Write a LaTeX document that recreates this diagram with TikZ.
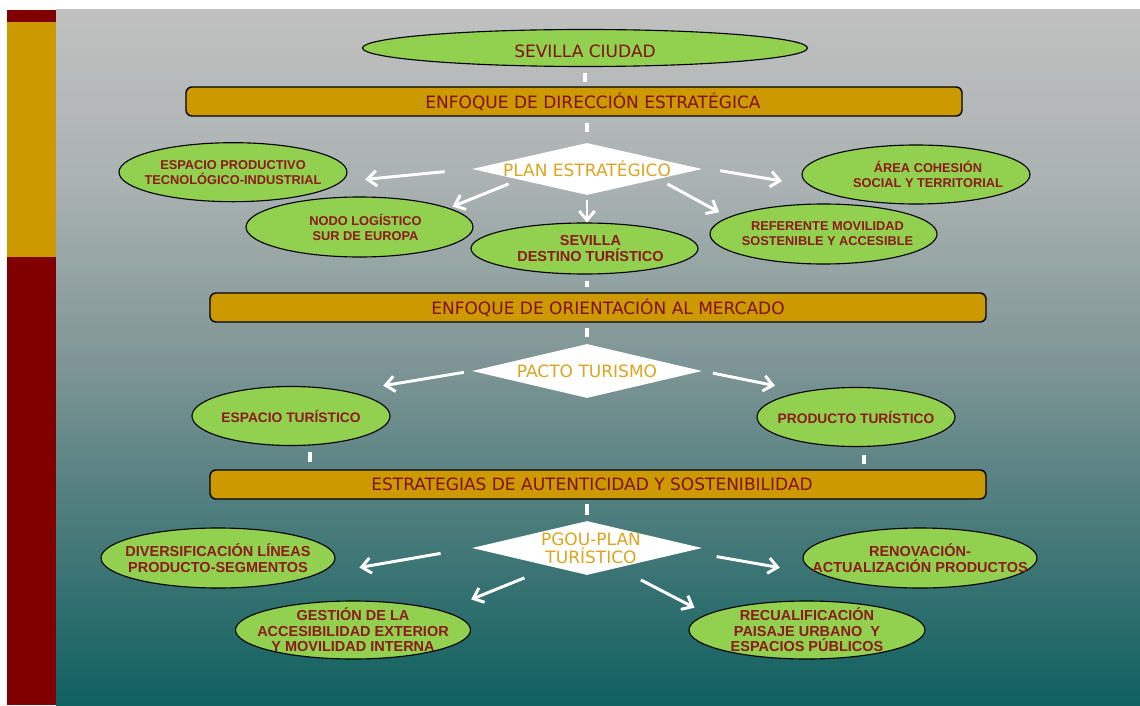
\documentclass[tikz,border=0pt]{standalone}
\usepackage{fontspec}
\setmainfont{DejaVu Sans}
\newfontfamily\ovalfont{Liberation Sans}
\usepackage{tikz}
\usetikzlibrary{calc, shapes.geometric, arrows.meta}

\definecolor{bargold}{RGB}{204,153,0}
\definecolor{barred}{RGB}{128,0,0}
\definecolor{ovalgreen}{RGB}{146,208,80}
\definecolor{txtred}{RGB}{128,16,16}
\definecolor{ovalred}{RGB}{139,26,26}
\definecolor{txtgold}{RGB}{218,165,32}

\pgfdeclareverticalshading{slidebg}{100bp}{rgb(0bp)=(0.059,0.376,0.376); rgb(25bp)=(0.059,0.376,0.376); rgb(37.5bp)=(0.282,0.478,0.478); rgb(50bp)=(0.502,0.588,0.588); rgb(62.5bp)=(0.667,0.698,0.698); rgb(75bp)=(0.753,0.753,0.753); rgb(100bp)=(0.753,0.753,0.753)}

\tikzset{
  band/.style={draw=black, line width=1pt, fill=bargold, rounded corners=0.15cm,
    minimum width=19.4cm, minimum height=0.725cm, inner sep=0pt},
  bandtext/.style={text=txtred, font=\fontsize{12.1pt}{14pt}\selectfont},
  oval/.style={ellipse, draw=black, line width=0.8pt, fill=ovalgreen, inner sep=0pt},
  ovaltext/.style={text=ovalred, align=center, font=\ovalfont\bfseries\fontsize{9.1pt}{10.7pt}\selectfont},
  bigovaltext/.style={text=ovalred, align=center, font=\ovalfont\bfseries\fontsize{10.3pt}{11.4pt}\selectfont},
  plan/.style={diamond, fill=white, inner sep=0pt, minimum width=5.75cm},
  plantext/.style={text=txtgold, align=center, font=\fontsize{12.1pt}{12.6pt}\selectfont},
  link/.style={draw=white, line width=2.8pt},
  arr/.style={draw=white, line width=2.1pt, -{Straight Barb[length=6.5pt, width=11pt]}}
}

\begin{document}
\begin{tikzpicture}
        \useasboundingbox (0,0) rectangle (28.5,17.625);

        % slide background and side bar
        \shade[shading=slidebg] (1.4,0) rectangle (28.5,17.375);
        \fill[barred]  (0.175,0)    rectangle (1.4,17.375);
        \fill[bargold] (0.175,11.2) rectangle (1.4,17.075);

        \node[oval, minimum width=11.125cm, minimum height=0.925cm,
              label={[bandtext, yshift=-0.075cm]center:SEVILLA CIUDAD}] (ciudad) at (14.625,16.425) {};

        \node[band, label={[bandtext, xshift=0.475cm]center:ENFOQUE DE DIRECCIÓN ESTRATÉGICA}] (dir) at (14.35,15.0875) {};
        \node[band, label={[bandtext, xshift=0.25cm]center:ENFOQUE DE ORIENTACIÓN AL MERCADO}] (merc) at (14.95,9.9375) {};
        \node[band, label={[bandtext, xshift=-0.15cm]center:ESTRATEGIAS DE AUTENTICIDAD Y SOSTENIBILIDAD}] (estr) at (14.95,5.5125) {};

        \node[plan, minimum height=1.3cm,  label={[plantext]center:PLAN ESTRATÉGICO}] (plan) at (14.675,13.4) {};
        \node[plan, minimum height=1.35cm, label={[plantext]center:PACTO TURISMO}] (pacto) at (14.675,8.35) {};
        \node[plan, minimum height=1.35cm, label={[plantext, xshift=0.1cm]center:PGOU-PLAN\\TURÍSTICO}] (pgou) at (14.675,3.925) {};

        % plan estrategico
        \node[oval, minimum width=5.7cm, minimum height=1.475cm,
              label={[ovaltext]center:ESPACIO PRODUCTIVO\\TECNOLÓGICO-INDUSTRIAL}] (prod) at (5.825,13.32) {};
        \node[oval, minimum width=5.675cm, minimum height=1.5cm,
              label={[ovaltext, xshift=0.15cm]center:NODO LOGÍSTICO\\SUR DE EUROPA}] (nodo) at (8.9875,11.95) {};
        \node[oval, minimum width=5.675cm, minimum height=1.275cm,
              label={[bigovaltext, xshift=0.15cm]center:SEVILLA\\DESTINO TURÍSTICO}] (destino) at (14.6125,11.4125) {};
        \node[oval, minimum width=5.675cm, minimum height=1.5cm,
              label={[ovaltext, xshift=0.1cm]center:REFERENTE MOVILIDAD\\SOSTENIBLE Y ACCESIBLE}] (refer) at (20.5875,11.775) {};
        \node[oval, minimum width=5.7cm, minimum height=1.475cm,
              label={[ovaltext, xshift=0.3cm]center:ÁREA COHESIÓN\\SOCIAL Y TERRITORIAL}] (cohesion) at (22.9,13.2625) {};

        % pacto turismo
        \node[oval, minimum width=4.95cm, minimum height=1.475cm,
              label={[bigovaltext, font=\ovalfont\bfseries\fontsize{9.8pt}{11pt}\selectfont]center:ESPACIO TURÍSTICO}] (esptur) at (7.275,7.225) {};
        \node[oval, minimum width=4.95cm, minimum height=1.475cm,
              label={[bigovaltext, font=\ovalfont\bfseries\fontsize{9.8pt}{11pt}\selectfont]center:PRODUCTO TURÍSTICO}] (prodtur) at (21.4,7.2) {};

        % pgou
        \node[oval, minimum width=5.85cm, minimum height=1.5cm,
              label={[bigovaltext]center:DIVERSIFICACIÓN LÍNEAS\\PRODUCTO-SEGMENTOS}] (divers) at (5.45,3.675) {};
        \node[oval, minimum width=5.875cm, minimum height=1.45cm,
              label={[bigovaltext, font=\ovalfont\bfseries\fontsize{10.3pt}{11pt}\selectfont]center:GESTIÓN DE LA\\ACCESIBILIDAD EXTERIOR\\Y MOVILIDAD INTERNA}] (gestion) at (8.825,1.875) {};
        \node[oval, minimum width=5.85cm, minimum height=1.5cm,
              label={[bigovaltext]center:RENOVACIÓN-\\ACTUALIZACIÓN PRODUCTOS}] (renov) at (23.0,3.675) {};
        \node[oval, minimum width=5.9cm, minimum height=1.45cm,
              label={[bigovaltext, font=\ovalfont\bfseries\fontsize{10.3pt}{11pt}\selectfont]center:RECUALIFICACIÓN\\PAISAJE URBANO~~Y\\ESPACIOS PÚBLICOS}] (recual) at (20.175,1.875) {};

        % short links between levels
        \draw[link, shorten <=0.16cm, shorten >=0.1cm]   (ciudad.south) -- (ciudad.south |- dir.north);
        \draw[link, shorten <=0.15cm, shorten >=0.275cm] (plan.north |- dir.south) -- (plan.north);
        \draw[link, shorten <=0.15cm, shorten >=0.125cm] (pacto.north |- destino.south) -- (pacto.north |- merc.north);
        \draw[link, shorten <=0.125cm, shorten >=0.175cm] (pacto.north |- merc.south) -- (pacto.north);
        \draw[link, shorten <=0.16cm, shorten >=0.175cm] ([xshift=0.475cm]esptur.south) -- ([xshift=0.475cm]esptur.south |- estr.north);
        \draw[link, shorten <=0.19cm, shorten >=0.125cm] ([xshift=0.2cm]prodtur.south) -- ([xshift=0.2cm]prodtur.south |- estr.north);
        \draw[link, shorten <=0.1cm, shorten >=0.15cm]   (pgou.north |- estr.south) -- (pgou.north);

        % arrows out of the diamonds
        \draw[arr, shorten <=0.68cm, shorten >=0.59cm] (plan.west) -- (prod.-5);
        \draw[arr, shorten <=0.28cm, shorten >=0.1cm]  (plan.189)  -- (nodo.12);
        \draw[arr, shorten <=0.125cm]                  (plan.south) -- (plan.south |- destino.north);
        \draw[arr, shorten <=0.26cm, shorten >=0.26cm] (plan.-8)   -- (refer.170);
        \draw[arr, shorten <=1.0cm, shorten >=0.7cm]   (plan.3)    -- (cohesion.186);

        \draw[arr, shorten <=0.2cm, shorten >=0.875cm] (pacto.west) -- (esptur.23);
        \draw[arr, shorten <=0.27cm, shorten >=0.73cm] (pacto.east) -- (prodtur.154);

        \draw[arr, shorten <=0.79cm, shorten >=1.12cm] (pgou.west) -- (divers.-10);
        \draw[arr, shorten <=0.73cm, shorten >=0.76cm] (pgou.208.5) -- (gestion.12);
        \draw[arr, shorten <=0.74cm, shorten >=1.09cm] (pgou.-2)   -- (renov.190);
        \draw[arr, shorten <=0.65cm, shorten >=0.35cm] (pgou.-33)  -- (recual.171);
\end{tikzpicture}
\end{document}
